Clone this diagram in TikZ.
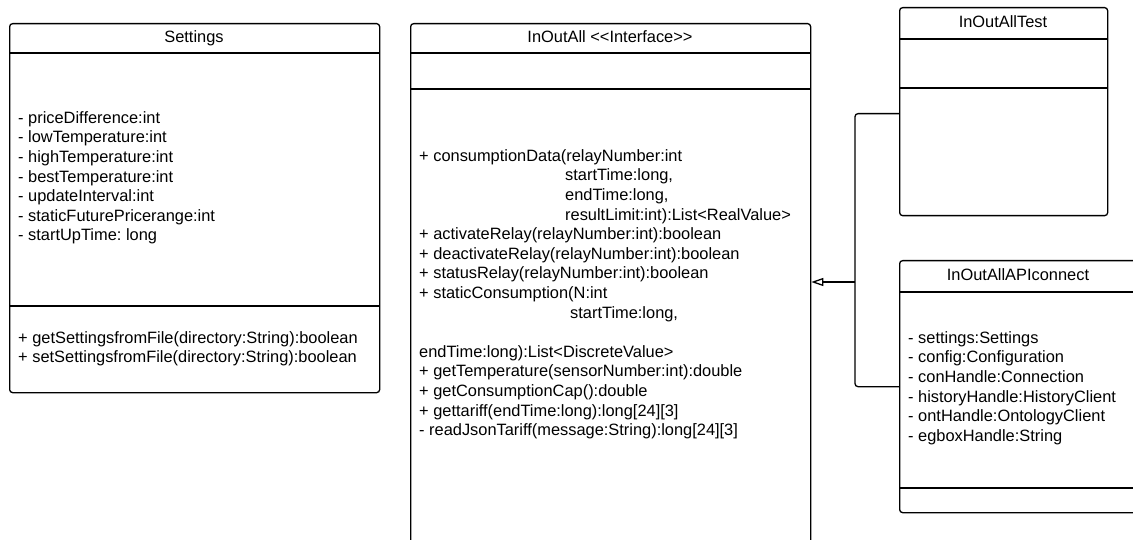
\documentclass[tikz,border=0pt]{standalone}
\usepackage{fontspec}
\setmainfont{Liberation Sans}
\usetikzlibrary{arrows.meta}
\frenchspacing
\begin{document}
\begin{tikzpicture}[x=1pt,y=-1pt,
  box/.style={draw=black, line width=1.3pt, rounded corners=3pt, anchor=north west, inner sep=0pt},
  sep/.style={draw=black, line width=1.3pt},
  txt/.style={font=\fontsize{16.4}{19.6}\selectfont\frenchspacing, anchor=base west, inner sep=0pt},
  ttl/.style={font=\fontsize{16.4}{19.6}\selectfont, anchor=base, inner sep=0pt},
  conn/.style={draw=black, line width=1.3pt, rounded corners=3pt},
]
\useasboundingbox (0,0) rectangle (1133,540);
\clip (0,0) rectangle (1133,540);

% ---------- Settings ----------
\node[box, minimum width=370pt, minimum height=369pt] (settings) at (9,23) {};
\draw[sep] (9,53) -- (379,53);
\draw[sep] (9,306) -- (379,306);
\node[ttl] (settingsT) at (194,42.7) {Settings};
\foreach \t [count=\i] in {- priceDifference:int, - lowTemperature:int, - highTemperature:int, - bestTemperature:int, - updateInterval:int, - staticFuturePricerange:int, - startUpTime: long}
  \node[txt] (sa\i) at (18,{123.3+19.6*(\i-1)}) {\t};
\foreach \t [count=\i] in {+ getSettingsfromFile(directory:String):boolean, + setSettingsfromFile(directory:String):boolean}
  \node[txt] (sm\i) at (18,{343.3+19.6*(\i-1)}) {\t};

% ---------- InOutAll ----------
\node[box, minimum width=400pt, minimum height=560pt] (iface) at (410,23) {};
\draw[sep] (410,53) -- (810,53);
\draw[sep] (410,89) -- (810,89);
\node[ttl] (ifaceT) at (610,42.7) {InOutAll <\kern0pt<Interface>\kern0pt>};
\foreach \k/\xx/\t in {
  0/419/{+ consumptionData(relayNumber:int},
  1/565/{startTime:long,},
  2/565/{endTime:long,},
  3/565/{resultLimit:int):List<RealValue>},
  4/419/{+ activateRelay(relayNumber:int):boolean},
  5/419/{+ deactivateRelay(relayNumber:int):boolean},
  6/419/{+ statusRelay(relayNumber:int):boolean},
  7/419/{+ staticConsumption(N:int},
  8/570/{startTime:long,},
  10/419/{endTime:long):List<DiscreteValue>},
  11/419/{+ getTemperature(sensorNumber:int):double},
  12/419/{+ getConsumptionCap():double},
  13/419/{+ gettariff(endTime:long):long[24][3]},
  14/419/{- readJsonTariff(message:String):long[24][3]}}
  \node[txt] (im\k) at (\xx,{161.3+19.6*\k}) {\t};

% ---------- InOutAllTest ----------
\node[box, minimum width=208pt, minimum height=208pt] (test) at (899,7) {};
\draw[sep] (899,39) -- (1107,39);
\draw[sep] (899,88) -- (1107,88);
\node[ttl] (testT) at (1003,27.5) {InOutAllTest};

% ---------- InOutAllAPIconnect ----------
\node[box, minimum width=238pt, minimum height=252pt] (api) at (899,260) {};
\draw[sep] (899,292) -- (1137,292);
\draw[sep] (899,488) -- (1137,488);
\node[ttl] (apiT) at (1018,280) {InOutAllAPIconnect};
\foreach \t [count=\i] in {- settings:Settings, - config:Configuration, - conHandle:Connection, - historyHandle:HistoryClient, - ontHandle:OntologyClient, - egboxHandle:String}
  \node[txt] (aa\i) at (908,{343.3+19.6*(\i-1)}) {\t};

% ---------- Connectors ----------
\coordinate (j) at (855,282);
\draw[conn] ([yshift=-2pt]test.west) -| (j) |- (api.west);
\draw[conn, -{Triangle[open, length=12pt, width=8pt]}] (j) -- (j -| iface.east);
\end{tikzpicture}
\end{document}
